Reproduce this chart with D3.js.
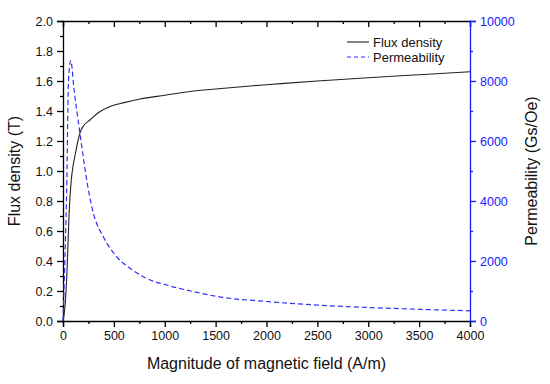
<!DOCTYPE html>
<html>
<head>
<meta charset="utf-8">
<script src="https://cdn.jsdelivr.net/npm/d3@7"></script>
<style>
  body { margin: 0; background: #fff; }
  svg { font-family: "Liberation Sans", Arial, sans-serif; }
</style>
</head>
<body>
<div id="container"></div>
<script>
const width = 550;
const height = 384;

// Flux density B (T) against field H (A/m)
const fluxH = [0, 20, 40, 60, 80, 100, 120, 150, 170, 200, 265, 350, 462, 600, 757, 1000, 1250, 1500, 1840, 2000, 2500, 3000, 3500, 4000];
const fluxB = [0, 0.1, 0.34, 0.72, 0.93, 1.04, 1.11, 1.21, 1.26, 1.3, 1.34, 1.39, 1.43, 1.456, 1.48, 1.505, 1.53, 1.547, 1.567, 1.575, 1.6, 1.622, 1.642, 1.662];

// Permeability (Gs/Oe) against field H (A/m)
const permH = [0, 13, 25, 36, 52, 65, 76, 90, 100, 118, 140, 167, 200, 233, 265, 298, 396, 528, 658, 822, 1051, 1281, 1527, 2000, 2500, 3000, 3500, 4000];
const permU = [0, 1400, 2800, 4300, 7800, 8500, 8680, 8400, 8000, 7450, 6900, 6250, 5450, 4700, 4100, 3600, 2810, 2140, 1760, 1420, 1170, 980, 810, 650, 530, 450, 390, 340];

const xTicks = [0, 500, 1000, 1500, 2000, 2500, 3000, 3500, 4000];
const leftTicks = [0, 0.2, 0.4, 0.6, 0.8, 1.0, 1.2, 1.4, 1.6, 1.8, 2.0];
const rightTicks = [0, 2000, 4000, 6000, 8000, 10000];

const legendItems = ['Flux density', 'Permeability'];

const margin = {left: 63, right: 80, top: 21, bottom: 63};
const blue = '#1a1aff';
const dashBlue = '#3030f5';

function render() {
  const svg = d3.select('#container').append('svg')
    .attr('width', width)
    .attr('height', height);

  const x = d3.scaleLinear().domain([0, 4000]).range([margin.left, width - margin.right]);
  const yL = d3.scaleLinear().domain([0, 2]).range([height - margin.bottom, margin.top]);
  const yR = d3.scaleLinear().domain([0, 10000]).range([height - margin.bottom, margin.top]);

  const minorX = d3.range(250, 4000, 500);
  const minorL = d3.range(0.1, 2, 0.2);
  const minorR = d3.range(1000, 10000, 2000);

  // bottom axis
  const bottom = svg.append('g')
    .attr('transform', `translate(0,${yL(0)})`);
  bottom.call(d3.axisBottom(x).tickValues(xTicks).tickSize(6).tickPadding(4).tickFormat(d3.format('d')));
  bottom.append('g').call(d3.axisBottom(x).tickValues(minorX).tickSize(3).tickFormat(''))
    .select('.domain').remove();

  // top axis, ticks inward
  const top = svg.append('g')
    .attr('transform', `translate(0,${margin.top})`);
  top.call(d3.axisBottom(x).tickValues(xTicks).tickSize(6).tickFormat(''));
  top.append('g').call(d3.axisBottom(x).tickValues(minorX).tickSize(3).tickFormat(''))
    .select('.domain').remove();

  // left axis
  const left = svg.append('g')
    .attr('transform', `translate(${margin.left},0)`);
  left.call(d3.axisLeft(yL).tickValues(leftTicks).tickSize(6).tickPadding(4).tickFormat(d3.format('.1f')));
  left.append('g').call(d3.axisLeft(yL).tickValues(minorL).tickSize(3).tickFormat(''))
    .select('.domain').remove();

  // right axis (blue)
  const right = svg.append('g')
    .attr('transform', `translate(${width - margin.right},0)`);
  right.call(d3.axisRight(yR).tickValues(rightTicks).tickSize(6).tickPadding(4).tickFormat(d3.format('d')));
  right.append('g').call(d3.axisRight(yR).tickValues(minorR).tickSize(3).tickFormat(''))
    .select('.domain').remove();

  svg.selectAll('.domain, .tick line').attr('stroke', '#000').attr('stroke-width', 1.3);
  svg.selectAll('.tick text').attr('font-size', 12.5).attr('fill', '#111')
    .attr('font-family', '"Liberation Sans", Arial, sans-serif');
  right.selectAll('.domain, .tick line').attr('stroke', blue);
  right.selectAll('.tick text').attr('fill', blue);

  // lines
  const fluxData = fluxH.map((h, i) => [h, fluxB[i]]);
  const permData = permH.map((h, i) => [h, permU[i]]);

  svg.append('path')
    .datum(fluxData)
    .attr('fill', 'none')
    .attr('stroke', '#222')
    .attr('stroke-width', 1.1)
    .attr('d', d3.line().x(d => x(d[0])).y(d => yL(d[1])).curve(d3.curveMonotoneX));

  svg.append('path')
    .datum(permData)
    .attr('fill', 'none')
    .attr('stroke', dashBlue)
    .attr('stroke-width', 1.2)
    .attr('stroke-dasharray', '5,3')
    .attr('d', d3.line().x(d => x(d[0])).y(d => yR(d[1])).curve(d3.curveMonotoneX));

  // legend
  const legend = svg.append('g').attr('transform', 'translate(347,42)');
  legendItems.forEach((name, i) => {
    const g = legend.append('g').attr('transform', `translate(0,${i * 15})`);
    g.append('line')
      .attr('x1', 0).attr('x2', 22).attr('y1', 0).attr('y2', 0)
      .attr('stroke', i === 0 ? '#222' : dashBlue)
      .attr('stroke-width', 1.1)
      .attr('stroke-dasharray', i === 0 ? null : '4,3');
    g.append('text')
      .attr('x', 26).attr('y', 4.5)
      .attr('font-size', 13)
      .attr('fill', '#111')
      .text(name);
  });

  // axis titles
  svg.append('text')
    .attr('x', (margin.left + width - margin.right) / 2)
    .attr('y', 369)
    .attr('text-anchor', 'middle')
    .attr('font-size', 16)
    .attr('fill', '#111')
    .text('Magnitude of magnetic field (A/m)');

  svg.append('text')
    .attr('transform', `translate(20,${(margin.top + height - margin.bottom) / 2}) rotate(-90)`)
    .attr('text-anchor', 'middle')
    .attr('font-size', 16)
    .attr('fill', '#111')
    .text('Flux density (T)');

  svg.append('text')
    .attr('transform', `translate(537,${(margin.top + height - margin.bottom) / 2}) rotate(-90)`)
    .attr('text-anchor', 'middle')
    .attr('font-size', 16)
    .attr('fill', '#111')
    .text('Permeability (Gs/Oe)');
}

window.addEventListener('load', render);
</script>
</body>
</html>
